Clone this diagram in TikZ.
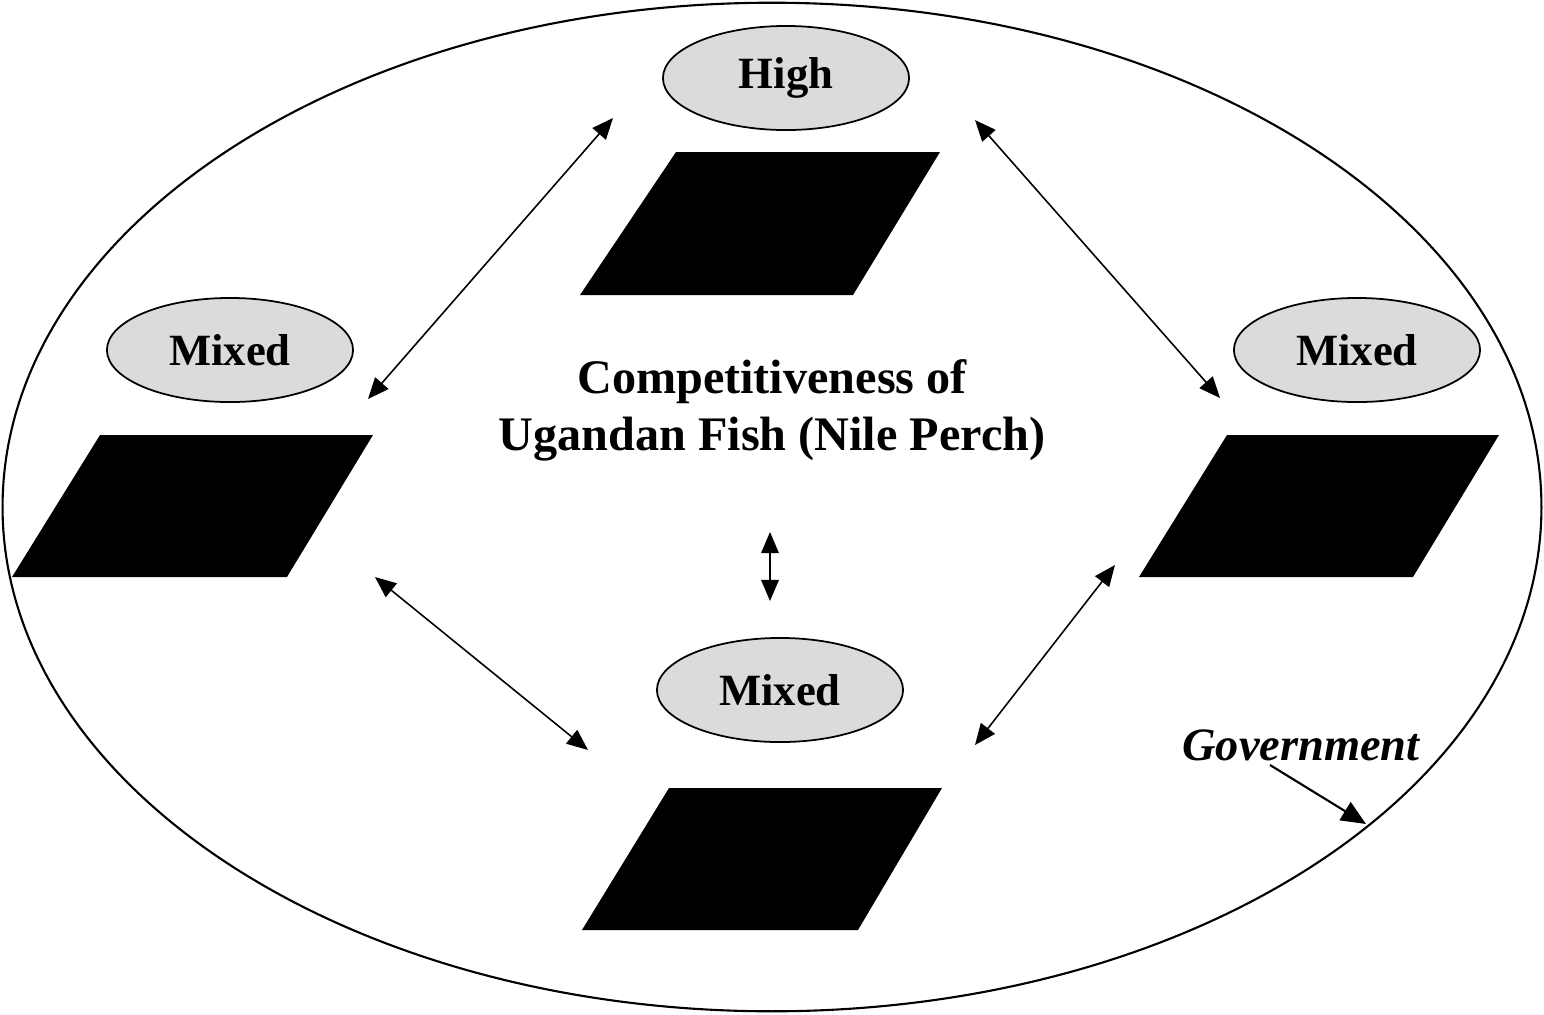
\documentclass[tikz,border=0pt]{standalone}
\usepackage{fontspec}
\setmainfont{Liberation Serif}
\usetikzlibrary{shapes.geometric,arrows.meta}
\begin{document}
\begin{tikzpicture}[x=0.01cm,y=-0.01cm,
  bubble/.style={ellipse,draw,line width=0.5pt,fill=gray!28,minimum width=246\pgflinewidth*0+2.46cm,minimum height=1.04cm,inner sep=0pt,font=\fontsize{12.7pt}{14pt}\selectfont\bfseries},
  slab/.style={fill=black},
  link/.style={line width=0.45pt,{Triangle[length=6pt,width=5pt]}-{Triangle[length=6pt,width=5pt]}},
  pointer/.style={line width=0.6pt,-{Triangle[length=7pt,width=6pt]}}]
\useasboundingbox (0,0) rectangle (1544,1014);
% outer ellipse
\node[ellipse,draw,line width=0.6pt,minimum width=15.38cm,minimum height=10.08cm,inner sep=0pt] (gov) at (772,507) {};
% bubbles
\node[bubble] (high) at (786,78) {High};
\node[bubble] (mixl) at (230,350) {Mixed};
\node[bubble] (mixr) at (1357,350) {Mixed};
\node[bubble] (mixb) at (780,690) {Mixed};
% parallelograms
\fill[slab] (676,152) -- (940,152) -- (853,295) -- (580,295) -- cycle;
\fill[slab] (100,435) -- (373,435) -- (287,577) -- (12,577) -- cycle;
\fill[slab] (1227,435) -- (1499,435) -- (1413,577) -- (1139,577) -- cycle;
\fill[slab] (669,788) -- (942,788) -- (858,930) -- (582,930) -- cycle;
% central text
\node[align=center,font=\fontsize{13.7pt}{16.2pt}\selectfont\bfseries] (core) at (772,410) {Competitiveness of\\Ugandan Fish (Nile Perch)};
\node[font=\fontsize{13.2pt}{15pt}\selectfont\bfseries\itshape] (govlabel) at (1301,745) {Government};
% connector end points
\coordinate (a1) at (613,118); \coordinate (a2) at (368,399);
\coordinate (b1) at (975,120); \coordinate (b2) at (1220,398);
\coordinate (c1) at (375,577); \coordinate (c2) at (588,750);
\coordinate (d1) at (1115,565); \coordinate (d2) at (975,745);
\coordinate (e1) at (770,532); \coordinate (e2) at (770,601);
\coordinate (g1) at (1270,765); \coordinate (g2) at (1366,824);
\draw[link] (a1) -- (a2);
\draw[link] (b1) -- (b2);
\draw[link] (c1) -- (c2);
\draw[link] (d1) -- (d2);
\draw[link] (e1) -- (e2);
\draw[pointer] (g1) -- (g2);
\end{tikzpicture}
\end{document}
